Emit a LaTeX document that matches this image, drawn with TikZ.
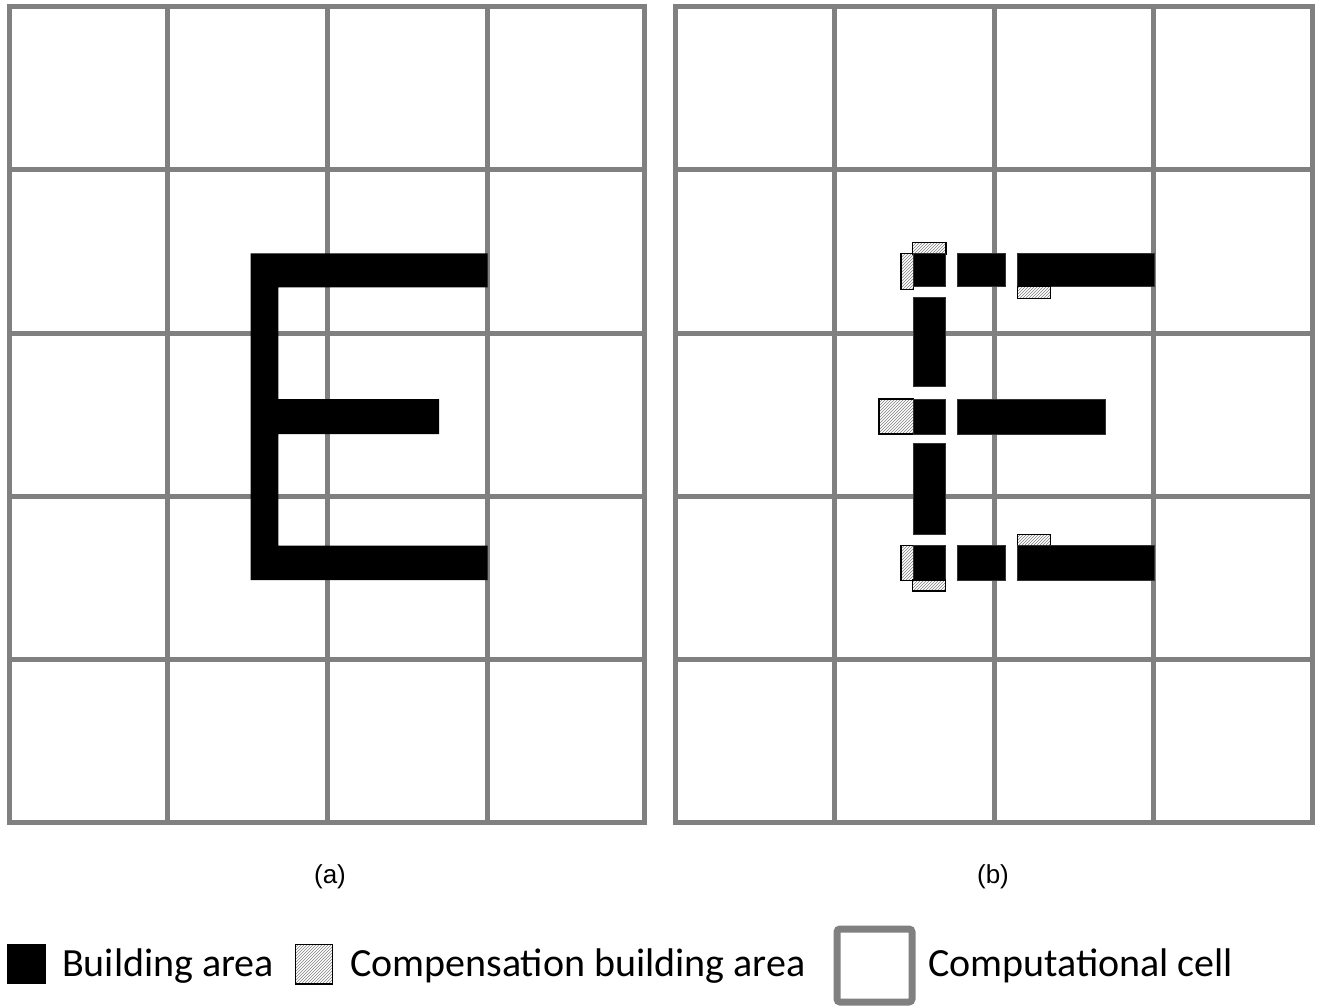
\documentclass[tikz,border=0pt]{standalone}
\usepackage{fontspec}
\setmainfont{Liberation Sans}
\newfontfamily\legendfont{Carlito}
\usetikzlibrary{patterns}
\definecolor{gridgray}{RGB}{128,128,128}
\tikzset{
  gridline/.style={draw=gridgray, line width=5pt},
  bldg/.style={fill=black, draw=black!80, line width=0.6pt},
  comp/.style={pattern=north east lines, pattern color=black!50, draw=black, line width=1.4pt},
  panellabel/.style={font=\fontsize{26}{30}\selectfont, inner sep=0pt},
  legendtext/.style={font=\legendfont\fontsize{40}{46}\selectfont, inner sep=0pt, anchor=base west},
}
\begin{document}
\begin{tikzpicture}[x=1pt,y=-1pt]
\useasboundingbox (0,0) rectangle (1323,1006);

% ---------- panel (a) grid ----------
\foreach \x in {9,167,327,487,644.5}
  \draw[gridline] (\x,7) -- (\x,822.7);
\foreach \y in {7,170,333,496,659,822.7}
  \draw[gridline] (9,\y) -- (644.5,\y);
\draw[gridline] (9,7) rectangle (644.5,822.7);

% ---------- panel (b) grid ----------
\foreach \x in {675,834,994,1153.5,1312}
  \draw[gridline] (\x,7) -- (\x,822.7);
\foreach \y in {7,170,333,496,659,822.7}
  \draw[gridline] (675,\y) -- (1312,\y);
\draw[gridline] (675,7) rectangle (1312,822.7);

% ---------- E in panel (a) ----------
\fill[black] (250.7,253.3) -- (487.7,253.3) -- (487.7,287.3) -- (278.3,287.3)
  -- (278.3,399) -- (439,399) -- (439,434) -- (278.3,434)
  -- (278.3,545.7) -- (487.7,545.7) -- (487.7,580) -- (250.7,580) -- cycle;

% ---------- E in panel (b) ----------
% top row
\draw[comp] (912.3,242.3) rectangle (946,254);
\draw[comp] (901,253.3) rectangle (913.3,289.3);
\draw[bldg] (913.3,253.3) rectangle (945,286.7);
\draw[bldg] (957.3,253.3) rectangle (1005.7,286.7);
\draw[bldg] (1017.3,253.3) rectangle (1154.3,286.7);
\draw[comp] (1017.3,286.7) rectangle (1050.7,298.3);
% vertical segments
\draw[bldg] (913.3,297.7) rectangle (945,386.7);
\draw[bldg] (913.3,443.3) rectangle (945,534);
% middle row
\draw[comp] (879,399) rectangle (913.3,434);
\draw[bldg] (913.3,399) rectangle (945,434);
\draw[bldg] (957.3,399) rectangle (1105.7,434);
% bottom row
\draw[comp] (1017.3,534.3) rectangle (1050.7,545.7);
\draw[comp] (901,545.7) rectangle (913.3,580.7);
\draw[bldg] (913.3,545.7) rectangle (945,580);
\draw[comp] (912.7,580) rectangle (945.7,591);
\draw[bldg] (957.3,545.7) rectangle (1005.7,580);
\draw[bldg] (1017.3,545.7) rectangle (1154.3,580);

% ---------- panel labels ----------
\node[panellabel] (labela) at (330,877) {(a)};
\node[panellabel] (labelb) at (993,877) {(b)};

% ---------- legend ----------
\fill[black] (7.3,944.3) rectangle (45.7,984);
\node[legendtext] (lbuild) at (62,976.7) {Building area};
\draw[comp, line width=1.2pt] (295.7,944.3) rectangle (332.3,984);
\node[legendtext] (lcomp) at (350,976.7) {Compensation building area};
\draw[draw=gridgray, line width=7pt, rounded corners=3pt] (837,929) rectangle (912,1002);
\node[legendtext] (lcell) at (928,976.7) {Computational cell};
\end{tikzpicture}
\end{document}
